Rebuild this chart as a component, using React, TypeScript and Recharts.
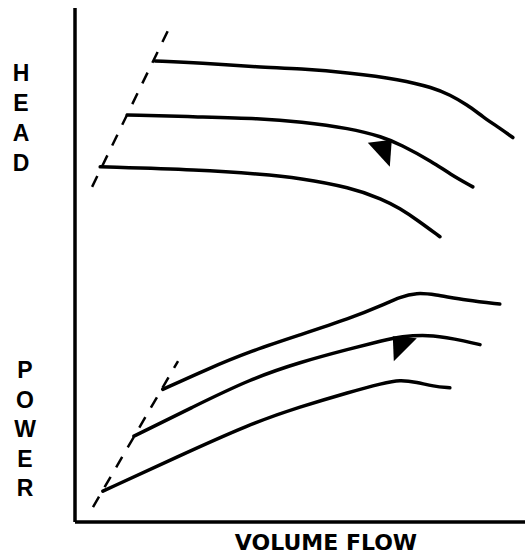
import React from "react";
import { ComposedChart, Line, ReferenceLine, Scatter, XAxis, YAxis } from "recharts";

// all values on a 0..100 relative scale (flow on x, head/power on y)
const headHigh = [
  { x: 17.8, y: 89.7 },
  { x: 27.8, y: 89.3 },
  { x: 41.1, y: 88.5 },
  { x: 50.0, y: 88.2 },
  { x: 61.1, y: 87.4 },
  { x: 72.2, y: 86.1 },
  { x: 79.6, y: 84.5 },
  { x: 83.3, y: 83.1 },
  { x: 87.1, y: 81.2 },
  { x: 90.7, y: 78.8 },
  { x: 94.4, y: 76.6 },
  { x: 97.3, y: 74.8 },
];
const headMid = [
  { x: 11.6, y: 79.2 },
  { x: 27.8, y: 78.8 },
  { x: 41.1, y: 78.5 },
  { x: 50.0, y: 77.9 },
  { x: 61.1, y: 76.6 },
  { x: 68.4, y: 74.9 },
  { x: 72.2, y: 73.5 },
  { x: 79.6, y: 70.0 },
  { x: 83.3, y: 67.7 },
  { x: 88.4, y: 65.2 },
];
const headLow = [
  { x: 5.6, y: 69.1 },
  { x: 27.8, y: 68.5 },
  { x: 41.1, y: 67.7 },
  { x: 50.0, y: 66.9 },
  { x: 61.1, y: 65.1 },
  { x: 68.4, y: 62.8 },
  { x: 72.2, y: 61.0 },
  { x: 76.0, y: 58.8 },
  { x: 81.1, y: 55.5 },
];
const headLimit = [
  { x: 3.8, y: 65.2 },
  { x: 21.6, y: 97.3 },
];

const powerHigh = [
  { x: 19.5, y: 25.8 },
  { x: 29.0, y: 29.6 },
  { x: 38.9, y: 33.2 },
  { x: 50.0, y: 36.4 },
  { x: 61.1, y: 39.6 },
  { x: 68.4, y: 42.2 },
  { x: 72.2, y: 43.8 },
  { x: 76.0, y: 44.6 },
  { x: 79.6, y: 44.3 },
  { x: 87.1, y: 43.1 },
  { x: 94.4, y: 42.4 },
];
const powerMid = [
  { x: 13.1, y: 16.7 },
  { x: 26.0, y: 22.3 },
  { x: 38.9, y: 27.8 },
  { x: 50.0, y: 31.1 },
  { x: 61.1, y: 33.7 },
  { x: 68.4, y: 35.3 },
  { x: 72.2, y: 36.1 },
  { x: 79.6, y: 36.5 },
  { x: 87.1, y: 35.1 },
  { x: 90.0, y: 34.5 },
];
const powerLow = [
  { x: 6.2, y: 6.0 },
  { x: 22.5, y: 12.6 },
  { x: 38.9, y: 19.1 },
  { x: 50.0, y: 22.4 },
  { x: 61.1, y: 25.3 },
  { x: 68.4, y: 27.0 },
  { x: 72.2, y: 27.7 },
  { x: 76.0, y: 27.2 },
  { x: 79.6, y: 26.4 },
  { x: 83.3, y: 26.1 },
];
const powerLimit = [
  { x: 4.0, y: 2.9 },
  { x: 22.9, y: 31.3 },
];

const headArrow = [{ x: 68.4, y: 72.4 }];
const powerArrow = [{ x: 72.4, y: 34.4 }];

const headLetters = ["H", "E", "A", "D"];
const powerLetters = ["P", "O", "W", "E", "R"];
const xTitle = "VOLUME FLOW";

const INK = "#000";

function HeadTri(p: any) {
  const { cx, cy } = p;
  return <polygon points={`${cx - 15},${cy - 7} ${cx + 9},${cy - 10} ${cx + 7},${cy + 17}`} fill={INK} />;
}

function PowerTri(p: any) {
  const { cx, cy } = p;
  return <polygon points={`${cx - 8},${cy - 9} ${cx + 16},${cy - 7} ${cx - 7},${cy + 16}`} fill={INK} />;
}

const letterStyle: React.CSSProperties = {
  position: "absolute",
  width: 40,
  textAlign: "center",
  fontFamily: "'Liberation Sans', Arial, sans-serif",
  fontWeight: 700,
  fontSize: 23,
  color: INK,
};

export default function App() {
  const curve = (data: any[], key: string) => (
    <Line
      key={key}
      data={data}
      dataKey="y"
      type="basis"
      stroke={INK}
      strokeWidth={3.5}
      strokeLinecap="round"
      dot={false}
      activeDot={false}
      isAnimationActive={false}
    />
  );
  const dashed = (data: any[], key: string) => (
    <Line
      key={key}
      data={data}
      dataKey="y"
      type="linear"
      stroke={INK}
      strokeWidth={2.5}
      strokeDasharray="12 11"
      dot={false}
      activeDot={false}
      isAnimationActive={false}
    />
  );
  return (
    <div style={{ position: "absolute", left: 0, top: 0, width: 525, height: 555, background: "#fff" }}>
      <ComposedChart width={525} height={555} margin={{ top: 8, right: 0, bottom: 33, left: 75 }}>
        <XAxis type="number" dataKey="x" domain={[0, 100]} hide />
        <YAxis type="number" dataKey="y" domain={[0, 100]} hide />
        <ReferenceLine x={0} stroke={INK} strokeWidth={3.5} />
        <ReferenceLine y={0} stroke={INK} strokeWidth={3.5} />
        {dashed(headLimit, "hl")}
        {dashed(powerLimit, "pl")}
        {curve(headHigh, "h1")}
        {curve(headMid, "h2")}
        {curve(headLow, "h3")}
        {curve(powerHigh, "p1")}
        {curve(powerMid, "p2")}
        {curve(powerLow, "p3")}
        <Scatter data={headArrow} dataKey="y" shape={HeadTri} isAnimationActive={false} />
        <Scatter data={powerArrow} dataKey="y" shape={PowerTri} isAnimationActive={false} />
      </ComposedChart>
      {headLetters.map((c, i) => (
        <div key={"h" + i} style={{ ...letterStyle, left: 1, top: 58 + i * 30, lineHeight: "30px" }}>
          {c}
        </div>
      ))}
      {powerLetters.map((c, i) => (
        <div key={"p" + i} style={{ ...letterStyle, left: 5, top: 355 + i * 29.5, lineHeight: "30px" }}>
          {c}
        </div>
      ))}
      <div
        style={{
          position: "absolute",
          left: 226,
          top: 532,
          width: 200,
          textAlign: "center",
          fontFamily: "'DejaVu Sans', sans-serif",
          fontWeight: 700,
          fontSize: 22,
          lineHeight: "22px",
          color: INK,
          whiteSpace: "nowrap",
        }}
      >
        {xTitle}
      </div>
    </div>
  );
}
